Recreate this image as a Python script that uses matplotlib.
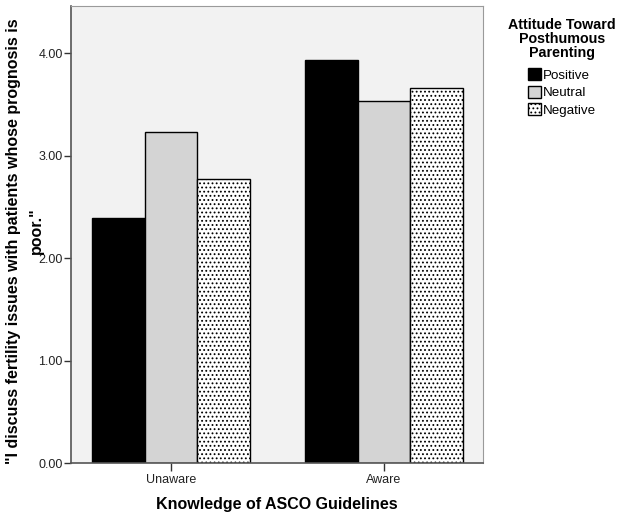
import matplotlib
matplotlib.use("Agg")
import matplotlib.pyplot as plt
from matplotlib.patches import Patch
import numpy as np

plt.rcParams['font.family'] = ['Liberation Sans', 'DejaVu Sans']
plt.rcParams['hatch.linewidth'] = 0.8
plt.rcParams['hatch.color'] = '#333333'

categories = ["Unaware", "Aware"]
series = ["Positive", "Neutral", "Negative"]
positive = [2.39, 3.93]
neutral = [3.23, 3.53]
negative = [2.77, 3.66]
yticks = [0.0, 1.0, 2.0, 3.0, 4.0]

W, H = 621, 519
fig = plt.figure(figsize=(W/100, H/100), dpi=100)
ax = fig.add_axes([71/W, 1-463/H, (483-71)/W, (463-6)/H])
ax.set_facecolor('#f2f2f2')

x = np.arange(len(categories))
w = 0.2474
HATCH = '....'
styles = [
    dict(facecolor='black', edgecolor='black'),
    dict(facecolor='#d4d4d4', edgecolor='black'),
    dict(facecolor='white', edgecolor='black', hatch=HATCH),
]
for i, (vals, st) in enumerate(zip([positive, neutral, negative], styles)):
    ax.bar(x + (i - 1) * w, vals, width=w, linewidth=1.0, zorder=2, **st)

ax.set_xlim(-0.469, 1.465)
ax.set_ylim(0, 4.46)
ax.set_yticks(yticks)
ax.set_yticklabels([f"{v:.2f}" for v in yticks], fontsize=9, color='#222222')
ax.set_xticks(x)
ax.set_xticklabels(categories, fontsize=9, color='#222222')
ax.tick_params(axis='both', direction='out', length=6, width=1, color='#333333')
ax.tick_params(axis='x', pad=2)
ax.tick_params(axis='y', length=5, pad=1)
for s in ['left', 'bottom']:
    ax.spines[s].set_color('#555555')
    ax.spines[s].set_linewidth(1.2)
for s in ['top', 'right']:
    ax.spines[s].set_color('#9a9a9a')
    ax.spines[s].set_linewidth(0.8)

ax.set_xlabel("Knowledge of ASCO Guidelines", fontsize=11.5, fontweight='bold')
ax.xaxis.set_label_coords(0.5, (463-504)/457)
ax.xaxis.label.set_va('center')

# y-axis title, wrapped over two lines as in the reference
ax.set_ylabel("\"I discuss fertility issues with patients whose prognosis is",
              fontsize=11.5, fontweight='bold')
ax.yaxis.set_label_coords((14-71)/412, (463-241)/457)
ax.yaxis.label.set_va('center')
fig.text(36/W, 1-231/H, "poor.\"", rotation=90, fontsize=11.5, fontweight='bold',
         ha='center', va='center')

handles = [Patch(facecolor='black', edgecolor='black', label='Positive'),
           Patch(facecolor='#d4d4d4', edgecolor='black', label='Neutral'),
           Patch(facecolor='white', edgecolor='black', hatch=HATCH, label='Negative')]
leg = fig.legend(handles=handles, title="Attitude Toward\nPosthumous\nParenting",
                 loc='upper center', bbox_to_anchor=(562/W, 1-6/H), frameon=False,
                 fontsize=9.6, title_fontproperties={'weight': 'bold', 'size': 10.3},
                 handlelength=1.0, handleheight=1.0, handletextpad=0.15,
                 labelspacing=0.3, alignment='center')
leg.get_title().set_multialignment('center')
leg.get_title().set_linespacing(1.0)
leg._legend_box.sep = 6
fig.savefig("out.png", dpi=100)
